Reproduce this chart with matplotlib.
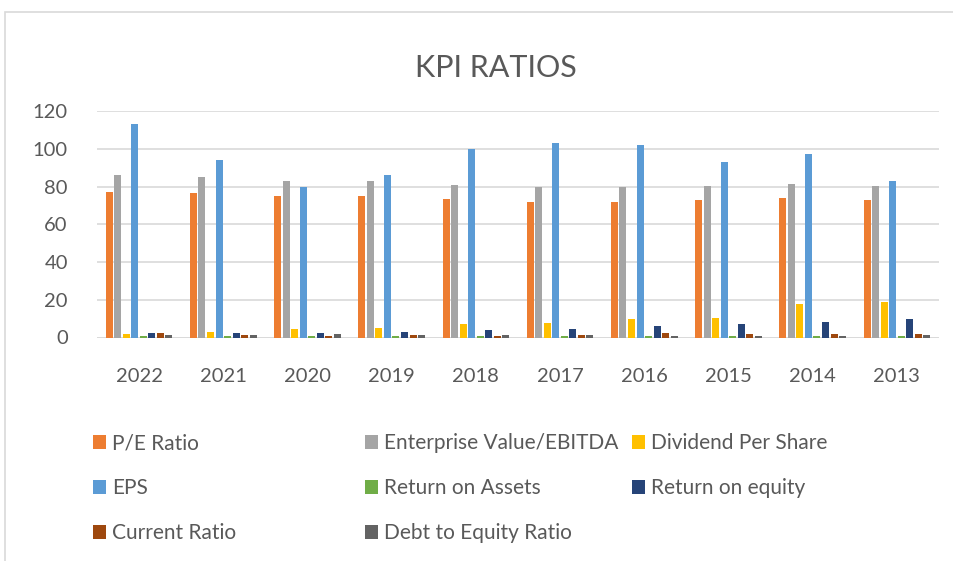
import matplotlib
matplotlib.use("Agg")
import matplotlib.pyplot as plt
import numpy as np
from matplotlib.patches import Rectangle

years = ["2022", "2021", "2020", "2019", "2018", "2017", "2016", "2015", "2014", "2013"]
pe_ratio = [77, 76.5, 75, 75, 73.5, 72, 72, 73, 74, 73]
ev_ebitda = [86, 85, 83, 83, 81, 79.5, 80, 80.5, 81.5, 80.5]
dividend_ps = [2.0, 2.8, 4.4, 5.1, 6.9, 7.7, 9.9, 10.4, 17.9, 18.6]
eps = [113, 94, 80, 86, 100, 103, 102, 93, 97, 83]
roa = [0.6, 0.6, 0.6, 0.6, 0.6, 0.6, 0.6, 0.6, 0.6, 0.6]
roe = [2.2, 2.4, 2.4, 3.1, 4.0, 4.7, 6.1, 7.4, 8.1, 9.9]
current_ratio = [2.2, 1.5, 0.8, 1.2, 1.0, 1.4, 2.4, 2.0, 2.0, 1.7]
debt_equity = [1.5, 1.5, 1.9, 1.5, 1.2, 1.4, 1.0, 1.0, 1.0, 1.3]

series = [
    ("P/E Ratio", pe_ratio, "#ED7D31"),
    ("Enterprise Value/EBITDA", ev_ebitda, "#A5A5A5"),
    ("Dividend Per Share", dividend_ps, "#FFC000"),
    ("EPS", eps, "#5B9BD5"),
    ("Return on Assets", roa, "#70AD47"),
    ("Return on equity", roe, "#264478"),
    ("Current Ratio", current_ratio, "#9E480E"),
    ("Debt to Equity Ratio", debt_equity, "#636363"),
]

plt.rcParams["font.family"] = ["Lato", "DejaVu Sans"]
txt = "#595959"

fig = plt.figure(figsize=(9.54, 5.61), dpi=100)
fig.patches.append(Rectangle((5 / 954, -0.1), 1.2, 1 - 12 / 561 + 0.1, transform=fig.transFigure,
                             fill=False, edgecolor="#D9D9D9", linewidth=1.2))
ax = fig.add_axes([97 / 954, 1 - 337.5 / 561, 842 / 954, 226.5 / 561])

x = np.arange(len(years))
n = len(series)
group = 0.81
slot = group / n
handles = []
for i, (name, vals, col) in enumerate(series):
    pos = x - group / 2 + slot * (i + 0.5)
    b = ax.bar(pos, vals, width=slot * 0.82, color=col, label=name, zorder=3)
    handles.append(b)

ax.set_xlim(-0.5, len(years) - 0.5)
ax.set_ylim(0, 120)
ax.set_yticks(range(0, 121, 20))
ax.set_xticks(x)
ax.set_xticklabels(years)
ax.grid(axis="y", color="#D9D9D9", linewidth=1.2, zorder=0)
for s in ax.spines.values():
    s.set_visible(False)
ax.axhline(0, color="#D9D9D9", linewidth=1.2, zorder=2)
ax.tick_params(length=0, labelsize=14.5, colors=txt)
ax.tick_params(axis="x", pad=22)
ax.tick_params(axis="y", pad=21)

fig.text(496 / 954, 1 - 68 / 561, "KPI RATIOS", ha="center", va="center", fontsize=22, color=txt)

# legend laid out in three columns, filled row-wise like the original
cols_x = [85 / 954, 357 / 954, 624 / 954]
for c, cx in enumerate(cols_x):
    idx = list(range(c, n, 3))
    leg = fig.legend([handles[i] for i in idx], [series[i][0] for i in idx],
                     loc="upper left", bbox_to_anchor=(cx, 1 - 425 / 561), frameon=False,
                     fontsize=15, labelcolor=txt, handlelength=0.6, handleheight=0.6,
                     handletextpad=0.3, labelspacing=1.2, borderaxespad=0)

fig.savefig("out.png", dpi=100)
